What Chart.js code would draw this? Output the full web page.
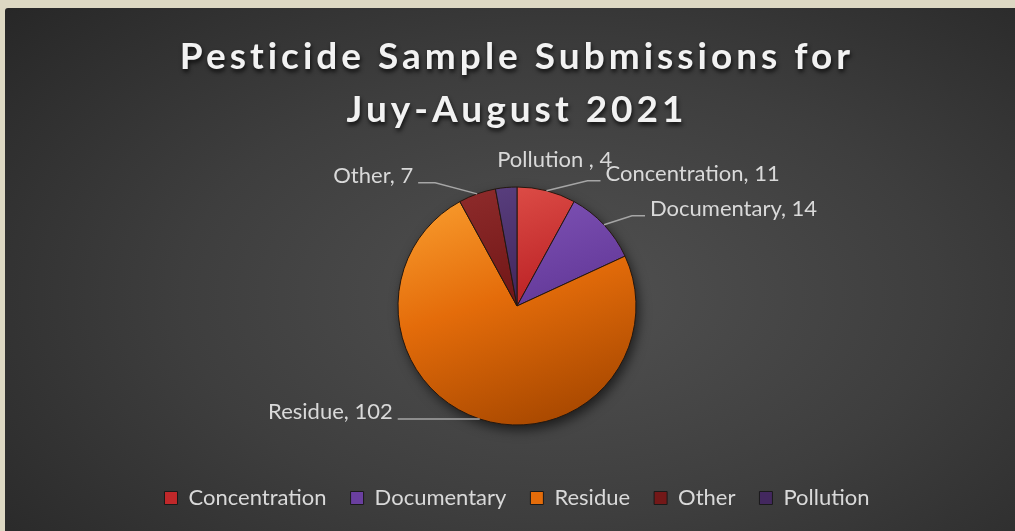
<!DOCTYPE html>
<html>
<head>
<meta charset="utf-8">
<title>Pesticide Sample Submissions</title>
<script src="https://cdn.jsdelivr.net/npm/chart.js@4.4.0/dist/chart.umd.min.js"></script>
<style>
    html, body { margin: 0; padding: 0; background: #ddd8c3; }
    body { width: 1015px; height: 531px; position: relative; overflow: hidden; }
    .chart-box {
        position: absolute; left: 5px; top: 8px; width: 1010px; height: 523px;
        border-top-left-radius: 3px;
        background: radial-gradient(ellipse 75% 85% at 55% 55%, #515151 0%, #3e3e3e 50%, #262626 100%);
    }
</style>
</head>
<body>
<div class="chart-box"><canvas id="pesticide-chart"></canvas></div>
<script>
// ====== DATA ======
const categories = ['Concentration', 'Documentary', 'Residue', 'Other', 'Pollution '];
const submissions = [11, 14, 102, 7, 4];
const titleLines = ['Pesticide Sample Submissions for', 'Juy-August 2021'];

// slice colours (light top -> dark bottom)
const sliceColors = [
    { light: '#e0514a', base: '#c0282a', dark: '#8a1313' },
    { light: '#8458bb', base: '#6a3fa0', dark: '#452473' },
    { light: '#f89a2c', base: '#e46c0a', dark: '#a84800' },
    { light: '#8e2b2b', base: '#731818', dark: '#4e0808' },
    { light: '#5a4080', base: '#43285f', dark: '#2a1640' }
];

// leader line offsets from the slice edge (elbow dx/dy, horizontal run, text side)
const leaderLines = [
    { ex: 41, ey: -10, run: 13, side: 1 },
    { ex: 28, ey: -9, run: 13, side: 1 },
    { ex: 0, ey: 0, run: -82, side: -1 },
    { ex: -42, ey: -11, run: -17, side: -1 },
    { ex: -14, ey: -21, run: 0, side: 1, noLine: true }
];

function sliceFill(context) {
    const chart = context.chart;
    const c = sliceColors[context.dataIndex];
    const area = chart.chartArea;
    if (!area) return c.base;
    const cx = (area.left + area.right) / 2;
    const cy = (area.top + area.bottom) / 2;
    const r = 119;
    const g = chart.ctx.createLinearGradient(cx - r * 0.4, cy - r, cx + r * 0.3, cy + r);
    g.addColorStop(0, c.light);
    g.addColorStop(0.45, c.base);
    g.addColorStop(1, c.dark);
    return g;
}

// soft shadow under the pie
const pieShadow = {
    id: 'pieShadow',
    beforeDatasetsDraw(chart) {
        const arc = chart.getDatasetMeta(0).data[0];
        if (!arc) return;
        const { x, y, outerRadius } = arc.getProps(['x', 'y', 'outerRadius'], true);
        const ctx = chart.ctx;
        ctx.save();
        ctx.shadowColor = 'rgba(0, 0, 0, 0.6)';
        ctx.shadowBlur = 12;
        ctx.shadowOffsetX = 3;
        ctx.shadowOffsetY = 5;
        ctx.beginPath();
        ctx.arc(x, y, outerRadius, 0, Math.PI * 2);
        ctx.fillStyle = '#2a2a2a';
        ctx.fill();
        ctx.restore();
    }
};

// data labels with leader lines
const dataLabels = {
    id: 'dataLabels',
    afterDatasetsDraw(chart) {
        const ctx = chart.ctx;
        const meta = chart.getDatasetMeta(0);
        ctx.save();
        ctx.font = '22px Lato';
        ctx.lineWidth = 1.5;
        ctx.strokeStyle = '#a6a6a6';
        ctx.fillStyle = '#d9d9d9';
        ctx.textBaseline = 'middle';
        meta.data.forEach((arc, i) => {
            const p = arc.getProps(['x', 'y', 'startAngle', 'endAngle', 'outerRadius'], true);
            const mid = (p.startAngle + p.endAngle) / 2;
            const ax = p.x + Math.cos(mid) * p.outerRadius;
            const ay = p.y + Math.sin(mid) * p.outerRadius;
            const l = leaderLines[i];
            const bx = ax + l.ex;
            const by = ay + l.ey;
            const endX = bx + l.run;
            if (!l.noLine) {
                ctx.beginPath();
                ctx.moveTo(ax, ay);
                ctx.lineTo(bx, by);
                ctx.lineTo(endX, by);
                ctx.stroke();
            }
            ctx.textAlign = l.side > 0 ? 'left' : 'right';
            const text = categories[i] + ', ' + submissions[i];
            ctx.fillText(text, endX + l.side * 5, by - 7);
        });
        ctx.restore();
    }
};

// two-line spaced title with shadow
const chartTitle = {
    id: 'chartTitle',
    afterDraw(chart) {
        const ctx = chart.ctx;
        ctx.save();
        ctx.font = 'bold 37px Lato';
        ctx.letterSpacing = '4px';
        ctx.textAlign = 'center';
        ctx.textBaseline = 'alphabetic';
        ctx.fillStyle = '#f2f2f2';
        ctx.shadowColor = 'rgba(0, 0, 0, 0.75)';
        ctx.shadowBlur = 4;
        ctx.shadowOffsetX = 1;
        ctx.shadowOffsetY = 3;
        const cx = chart.width / 2 + 7;
        titleLines.forEach((line, i) => ctx.fillText(line, cx, 61 + i * 53));
        ctx.restore();
    }
};

const ctx1 = document.getElementById('pesticide-chart');
new Chart(ctx1, {
    type: 'pie',
    data: {
        labels: categories,
        datasets: [{
            data: submissions,
            backgroundColor: sliceFill,
            borderColor: '#241810',
            borderWidth: 1,
            hoverOffset: 0,
            radius: 119
        }]
    },
    options: {
        responsive: true,
        maintainAspectRatio: false,
        animation: false,
        layout: { padding: { top: 141, left: 14, right: 0, bottom: 12 } },
        plugins: {
            tooltip: { enabled: false },
            legend: {
                position: 'bottom',
                labels: {
                    color: '#d9d9d9',
                    font: { family: 'Lato', size: 22 },
                    boxWidth: 13,
                    boxHeight: 13,
                    padding: 24,
                    generateLabels: () => categories.map((c, i) => ({
                        text: c.trim(),
                        fillStyle: sliceColors[i].base,
                        strokeStyle: '#1a1a1a',
                        lineWidth: 1,
                        fontColor: '#d9d9d9',
                        hidden: false,
                        index: i
                    }))
                }
            }
        }
    },
    plugins: [pieShadow, dataLabels, chartTitle]
});
</script>
</body>
</html>
